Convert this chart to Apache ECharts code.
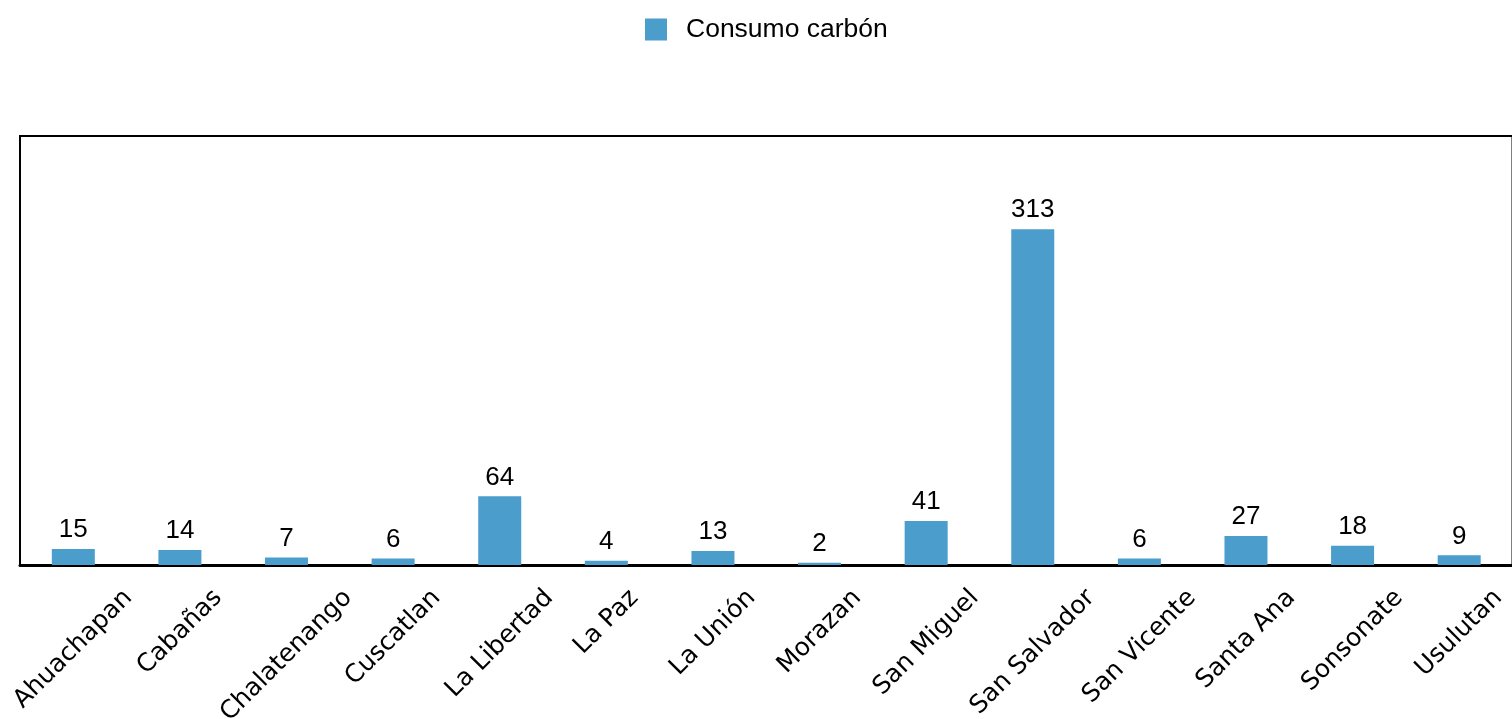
<!DOCTYPE html>
<html>
<head>
<meta charset="utf-8">
<script src="https://cdn.jsdelivr.net/npm/echarts@6/dist/echarts.min.js"></script>
<style>
  html, body { margin: 0; padding: 0; background: #fff; }
  #chart { width: 1512px; height: 719px; }
</style>
</head>
<body>
<div id="chart"></div>
<script>
const departamentos = ['Ahuachapan', 'Cabañas', 'Chalatenango', 'Cuscatlan', 'La Libertad', 'La Paz',
  'La Unión', 'Morazan', 'San Miguel', 'San Salvador', 'San Vicente', 'Santa Ana', 'Sonsonate', 'Usulutan'];
const consumoCarbon = [15, 14, 7, 6, 64, 4, 13, 2, 41, 313, 6, 27, 18, 9];
const seriesName = 'Consumo carbón';

const labelFont = '"DejaVu Sans", sans-serif';
const labelSize = 25;

// labels are centred on the tick and top-aligned:
// move each one straight down by half its width (0.25w along the text, 0.25w across it)
const ctx = document.createElement('canvas').getContext('2d');
ctx.font = labelSize + 'px ' + labelFont;
const categoryData = departamentos.map(name => {
  const w = ctx.measureText(name).width;
  return {
    value: name,
    textStyle: {
      align: 'center',
      verticalAlign: 'top',
      lineHeight: w / 2,
      padding: [0, w / 2, 0, 0]
    }
  };
});

const chart = echarts.init(document.getElementById('chart'));

const option = {
  animation: false,
  legend: {
    left: 640,
    top: 11,
    itemWidth: 22,
    itemHeight: 22,
    icon: 'rect',
    data: [seriesName],
    textStyle: {
      fontFamily: 'Helvetica, Arial, sans-serif',
      fontSize: 26.5,
      color: '#000',
      padding: [0, 0, 0, 14]
    }
  },
  grid: {
    left: 20,
    top: 136,
    width: 1492.5,
    height: 429,
    show: true,
    borderColor: '#000',
    borderWidth: 2,
    containLabel: false,
    outerBoundsMode: 'none'
  },
  xAxis: {
    type: 'category',
    data: categoryData,
    axisTick: { show: false },
    axisLine: { show: true, lineStyle: { color: '#000', width: 3 } },
    axisLabel: {
      interval: 0,
      rotate: 45,
      margin: 29,
      hideOverlap: false,
      fontFamily: labelFont,
      fontSize: labelSize,
      color: '#000'
    }
  },
  yAxis: {
    type: 'value',
    min: 0,
    max: 400,
    show: false,
    splitLine: { show: false }
  },
  series: [
    {
      name: seriesName,
      type: 'bar',
      data: consumoCarbon,
      barWidth: 43,
      itemStyle: { color: '#4b9dcb' },
      label: {
        show: true,
        position: 'top',
        distance: 6,
        fontFamily: 'Helvetica, Arial, sans-serif',
        fontSize: 26,
        color: '#000'
      }
    }
  ]
};

chart.setOption(option);
</script>
</body>
</html>
